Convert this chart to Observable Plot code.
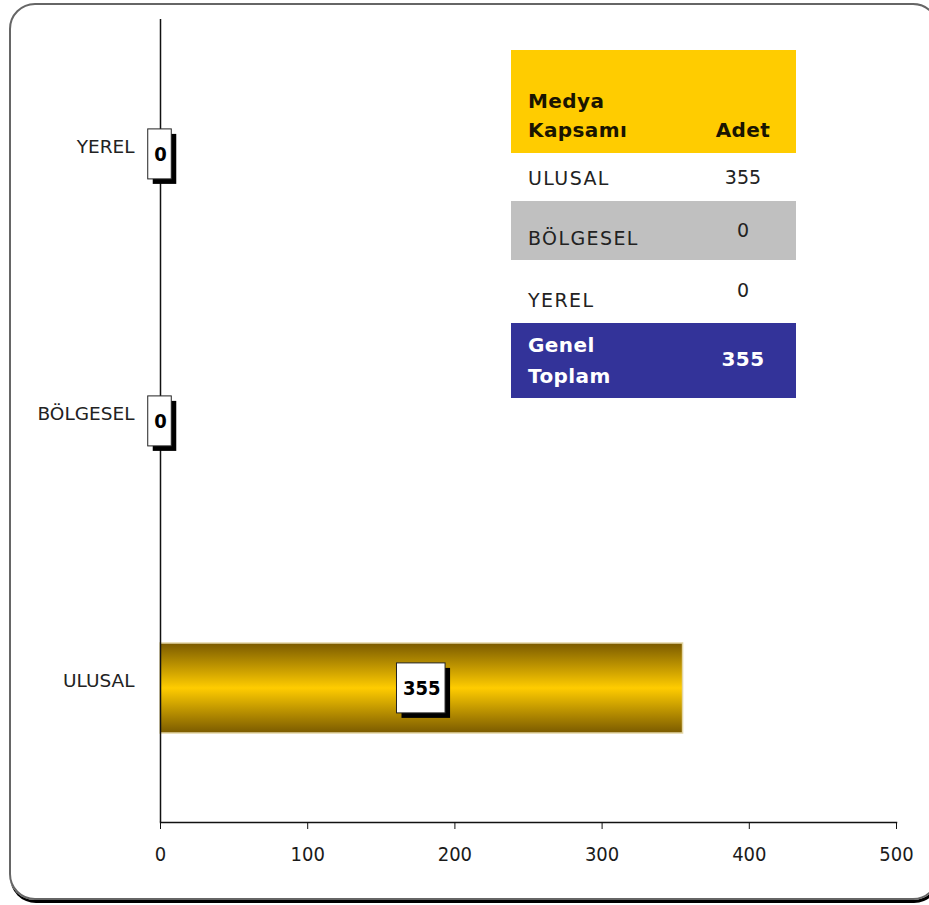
<!DOCTYPE html>
<html><head><meta charset="utf-8">
<script src="https://cdn.jsdelivr.net/npm/d3@7"></script>
<script src="https://cdn.jsdelivr.net/npm/@observablehq/plot@0.6"></script>
<style>
body{margin:0;background:#fff;width:929px;height:905px;overflow:hidden;position:relative;font-family:"DejaVu Sans",sans-serif;}
#frame{position:absolute;left:9px;top:3px;width:926px;height:893px;border:2px solid #666;border-radius:26px;box-shadow:1px 3px 0 #000;}
#chart{position:absolute;left:0;top:0;}
#chart svg{overflow:visible;}
#table{position:absolute;left:511px;top:50px;width:285px;}
.row{position:relative;width:285px;}
.row span{position:absolute;transform:translateY(-50%);white-space:nowrap;}
.lab{left:17px;font-size:19px;letter-spacing:1.4px;color:#222;}
.val{left:232px;transform:translate(-50%,-50%) !important;font-size:19px;color:#222;}
.hd{font-weight:bold;color:#1a1500;letter-spacing:0.4px;font-size:20px;}
.tot{font-weight:bold;color:#fff;letter-spacing:0.4px;font-size:20px;}
</style>
</head><body>
<div id="frame"></div>
<div id="chart"></div>
<div id="table"></div>
<script>
// ---- data ----
const categories = ["ULUSAL", "BÖLGESEL", "YEREL"];
const counts = [355, 0, 0];
const yOrder = ["YEREL", "BÖLGESEL", "ULUSAL"];
const xTicks = [0, 100, 200, 300, 400, 500];
const headerLabel = ["Medya", "Kapsamı"];
const headerValue = "Adet";
const totalLabel = ["Genel", "Toplam"];

const data = categories.map((c, i) => ({category: c, count: counts[i]}));

// ---- chart ----
const plot = Plot.plot({
  width: 929, height: 905,
  marginLeft: 160, marginRight: 33, marginTop: 19, marginBottom: 83,
  style: {background: "transparent", fontFamily: "'DejaVu Sans', sans-serif", color: "#1a1a1a"},
  x: {domain: [0, 500]},
  y: {domain: yOrder, paddingInner: 0.664, paddingOuter: 0.332},
  marks: [
    Plot.barX(data.filter(d => d.count > 0), {x: "count", y: "category", fill: "url(#goldGrad)", stroke: "#e3d6a6", strokeWidth: 1.5}),
    Plot.ruleX([0], {stroke: "#111", strokeWidth: 1.5}),
    Plot.frame({anchor: "bottom", stroke: "#111", strokeWidth: 1.5}),
    Plot.axisX(xTicks, {tickSize: 7, tickPadding: 17, fontSize: 20, tickFormat: d => d, label: null, stroke: "#111", fill: "#1a1a1a", fontFamily: "'DejaVu Sans Condensed', 'DejaVu Sans', sans-serif"}),
    Plot.axisY({tickSize: 0, tickPadding: 26, fontSize: 18.5, dy: -7, label: null, fill: "#222", style: {letterSpacing: "1.4px"}}),
    Plot.text(data, {x: d => d.count / 2, y: "category", text: d => String(d.count), fontWeight: "bold", fontSize: 20, fill: "#000", fontFamily: "'DejaVu Sans Condensed', 'DejaVu Sans', sans-serif"})
  ]
});
document.getElementById("chart").appendChild(plot);

// gradient for bar
const svgSel = d3.select(plot);
const defs = svgSel.insert("defs", ":first-child");
const grad = defs.append("linearGradient").attr("id", "goldGrad").attr("x1", 0).attr("y1", 0).attr("x2", 0).attr("y2", 1);
[[0, "#7a5a00"], [0.5, "#ffcc00"], [1, "#7a5a00"]].forEach(([o, c]) => grad.append("stop").attr("offset", o).attr("stop-color", c));

// boxes behind value labels (last mark = value labels)
const groups = plot.querySelectorAll(":scope > g");
const labelGroup = groups[groups.length - 1];
labelGroup.querySelectorAll("text").forEach(function (el) {
  const b = el.getBBox();
  const w = b.width + 11, h = 50;
  const cx = b.x + b.width / 2 - 1, cy = b.y + b.height / 2;
  const t = el.getAttribute("transform");
  const parent = el.parentNode;
  const mk = (dx, fill, stroke) => {
    const r = document.createElementNS("http://www.w3.org/2000/svg", "rect");
    r.setAttribute("x", cx - w / 2 + dx); r.setAttribute("y", cy - h / 2 + dx);
    r.setAttribute("width", w); r.setAttribute("height", h); r.setAttribute("fill", fill);
    if (stroke) { r.setAttribute("stroke", stroke); r.setAttribute("stroke-width", 1); }
    if (t) r.setAttribute("transform", t);
    parent.insertBefore(r, el);
  };
  mk(5, "#000");
  mk(0, "#fff", "#222");
});

// ---- table ----
const rowLayout = [
  {h: 103, bg: "#ffcc00"},
  {h: 48, bg: "#ffffff", ly: 25, vy: 24},
  {h: 59, bg: "#c0c0c0", ly: 37, vy: 29},
  {h: 63, bg: "#ffffff", ly: 40, vy: 30},
  {h: 75, bg: "#333399"}
];
const table = document.getElementById("table");
function row(i) {
  const r = document.createElement("div");
  r.className = "row";
  r.style.height = rowLayout[i].h + "px";
  r.style.background = rowLayout[i].bg;
  table.appendChild(r);
  return r;
}
function span(r, cls, text, top) {
  const s = document.createElement("span");
  s.className = cls; s.textContent = text; s.style.top = top + "px";
  r.appendChild(s);
}
let r = row(0);
span(r, "lab hd", headerLabel[0], 51);
span(r, "lab hd", headerLabel[1], 80);
span(r, "val hd", headerValue, 80);
categories.forEach((c, i) => {
  const rr = row(i + 1);
  span(rr, "lab", c, rowLayout[i + 1].ly);
  span(rr, "val", String(counts[i]), rowLayout[i + 1].vy);
});
r = row(4);
span(r, "lab tot", totalLabel[0], 22);
span(r, "lab tot", totalLabel[1], 53);
span(r, "val tot", String(d3.sum(counts)), 36);
</script>
</body></html>
